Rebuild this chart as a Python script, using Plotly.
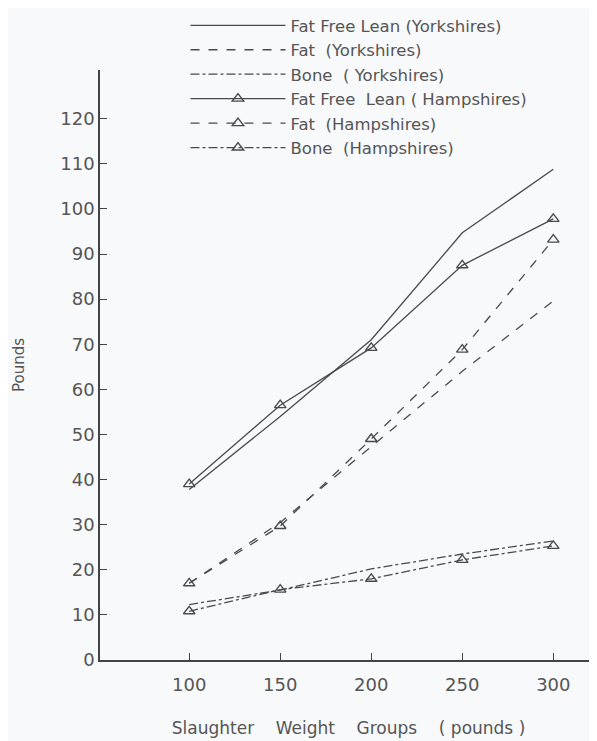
import plotly.graph_objects as go

weights = [100, 150, 200, 250, 300]
ffl_york = [37.8, 54, 71, 94.7, 108.8]
fat_york = [17, 30.5, 47.3, 64, 79.6]
bone_york = [12.3, 15.5, 20.2, 23.5, 26.4]
ffl_hamp = [39, 56.5, 69.2, 87.5, 97.8]
fat_hamp = [17, 29.7, 49, 68.8, 93.2]
bone_hamp = [10.8, 15.6, 18, 22.2, 25.3]

names = [
    "Fat Free Lean (Yorkshires)",
    "Fat  (Yorkshires)",
    "Bone  ( Yorkshires)",
    "Fat Free  Lean ( Hampshires)",
    "Fat  (Hampshires)",
    "Bone  (Hampshires)",
]
y_ticks = [0, 10, 20, 30, 40, 50, 60, 70, 80, 90, 100, 110, 120]
x_ticks = [100, 150, 200, 250, 300]

ink = "#4a4a4a"
font_family = "DejaVu Sans, sans-serif"

series = [
    (ffl_york, "solid", False),
    (fat_york, "dash", False),
    (bone_york, "dashdot", False),
    (ffl_hamp, "solid", True),
    (fat_hamp, "dash", True),
    (bone_hamp, "dashdot", True),
]

fig = go.Figure()
for (vals, dash, mark), name in zip(series, names):
    fig.add_trace(go.Scatter(
        x=weights, y=vals, name=name,
        mode="lines+markers" if mark else "lines",
        line=dict(color=ink, width=1.3, dash=dash),
        marker=dict(symbol="triangle-up-open", size=10, color=ink, line=dict(width=1.4)),
    ))

fig.update_layout(
    width=589, height=733,
    margin=dict(l=92, r=0, t=57, b=81),
    paper_bgcolor="#f8f9fb", plot_bgcolor="#f8f9fb",
    font=dict(family=font_family, color="#555555", size=16),
    showlegend=True,
    legend=dict(
        x=0.172, y=1.105, xanchor="left", yanchor="top",
        bgcolor="rgba(0,0,0,0)", font=dict(size=16.5, color="#555555"),
        itemwidth=95, tracegroupgap=0,
    ),
    xaxis=dict(
        range=[51, 324], tickvals=x_ticks, ticktext=[str(v) for v in x_ticks],
        showgrid=False, zeroline=False, showline=True, linecolor="#444", linewidth=1.5,
        ticks="inside", ticklen=7, tickcolor="#444", ticklabelstandoff=8,
        title=dict(text="Slaughter    Weight    Groups    ( pounds )", font=dict(size=17), standoff=28),
        tickfont=dict(size=18),
    ),
    yaxis=dict(
        range=[0, 130.8], tickvals=y_ticks, ticktext=[str(v) for v in y_ticks],
        showgrid=False, zeroline=False, showline=True, linecolor="#444", linewidth=1.5,
        ticks="inside", ticklen=7, tickcolor="#444",
        title=dict(text="Pounds", font=dict(size=15), standoff=32),
        tickfont=dict(size=18),
    ),
)

fig.write_html("out.html")
